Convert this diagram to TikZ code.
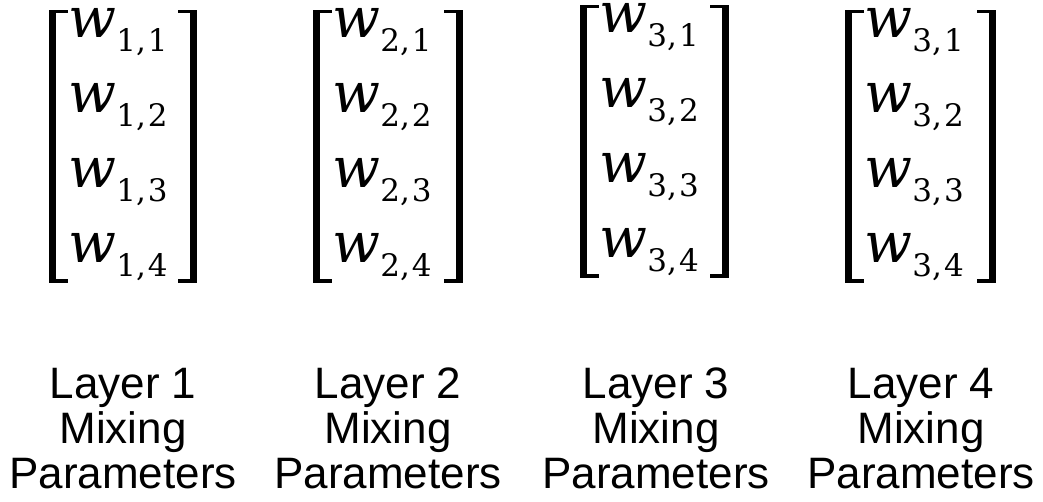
\documentclass[tikz,border=0pt]{standalone}
\usepackage{fontspec}
\setmainfont{Liberation Sans}
\newfontfamily\wfont{DejaVu Serif}[ItalicFont=DejaVu Serif Italic]
\newfontfamily\idxfont{DejaVu Serif}
% one matrix entry: italic w with a two-part index set below its baseline
\newcommand{\wentry}[2]{\smash{{\wfont\fontsize{56}{56}\selectfont\itshape w}\kern0.5pt\raisebox{-14pt}{\idxfont\fontsize{31}{31}\selectfont #1,\kern2pt#2}}}
\tikzset{
  entry/.style={anchor=base west, inner sep=0pt, outer sep=0pt},
  caption/.style={anchor=north, align=center, inner sep=0pt,
    font=\fontsize{44}{45}\selectfont},
}
% left and right square brackets: thick stem, thin arms
\newcommand{\lbrk}[3]{% x, top, bottom
  \fill (#1,#2) rectangle (#1+7,#3);
  \fill (#1,#2) rectangle (#1+19,#2+3.5);
  \fill (#1,#3-3.5) rectangle (#1+19,#3);}
\newcommand{\rbrk}[3]{%
  \fill (#1-7,#2) rectangle (#1,#3);
  \fill (#1-19,#2) rectangle (#1,#2+3.5);
  \fill (#1-19,#3-3.5) rectangle (#1,#3);}
\begin{document}
\begin{tikzpicture}[x=1pt,y=-1pt]
\useasboundingbox (0,0) rectangle (1043,502);
\fill[white] (0,0) rectangle (1043,502);
% matrices: name / left bracket / right bracket / vertical shift / layer index
\foreach \m/\lx/\rx/\dy/\k in {1/49/197/0/1, 2/313/463/0/2, 3/580/729/-5/3, 4/845/996/0/3}{
  \lbrk{\lx}{10+\dy}{283+\dy}
  \rbrk{\rx}{10+\dy}{283+\dy}
  \foreach \r in {1,...,4}{
    \node[entry] (w\m\r) at (\lx+19, 38+75*\r-75+\dy) {\wentry{\k}{\r}};
  }
}
% captions
\node[caption] (c1) at (123,368) {Layer 1\\Mixing\\Parameters};
\node[caption] (c2) at (388,368) {Layer 2\\Mixing\\Parameters};
\node[caption] (c3) at (656,368) {Layer 3\\Mixing\\Parameters};
\node[caption] (c4) at (921,368) {Layer 4\\Mixing\\Parameters};
\end{tikzpicture}
\end{document}
